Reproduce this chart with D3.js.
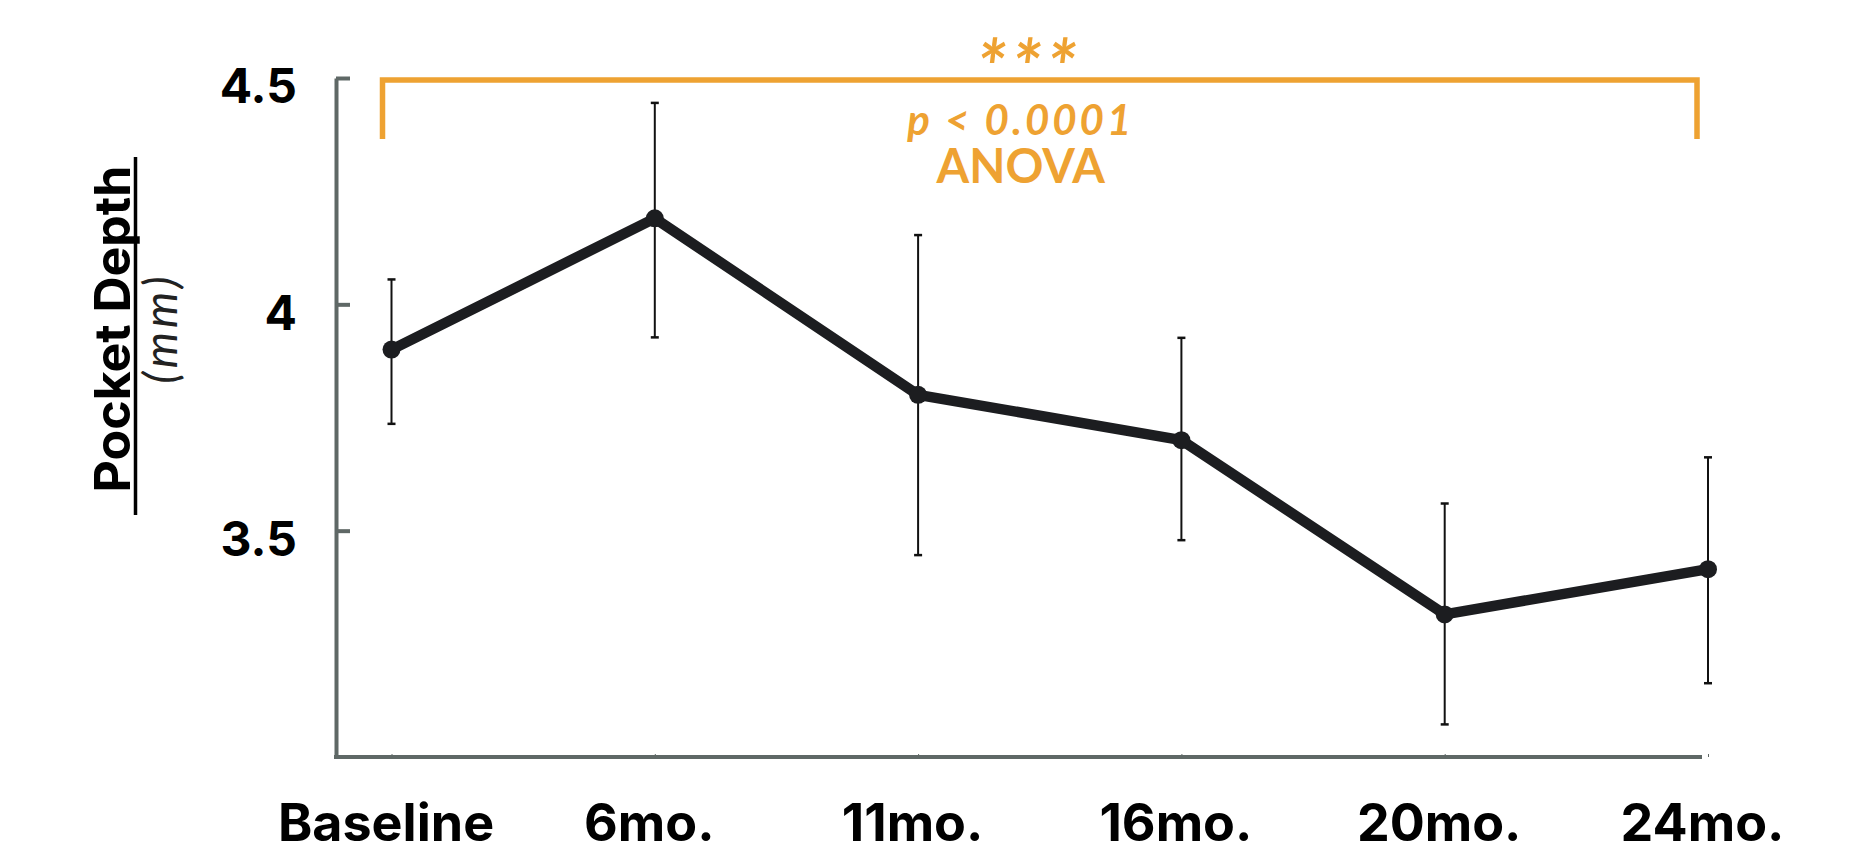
<!DOCTYPE html>
<html>
<head>
<meta charset="utf-8">
<script src="https://cdn.jsdelivr.net/npm/d3@7"></script>
<style>
  body { margin: 0; background: #fff; }
  svg { display: block; }
</style>
</head>
<body>
<div id="chart"></div>
<script>
// values
var categories = ["Baseline", "6mo.", "11mo.", "16mo.", "20mo.", "24mo."];
var means = [3.90, 4.19, 3.80, 3.70, 3.315, 3.415];
var upper = [4.055, 4.445, 4.153, 3.926, 3.56, 3.662];
var lower = [3.736, 3.927, 3.446, 3.479, 3.072, 3.163];
var yTicks = [3.5, 4, 4.5];
var yTickLabels = ["3.5", "4", "4.5"];
var starText = "***";
var pText = "p < 0.0001";
var testText = "ANOVA";

var rows = categories.map(function(c, i) {
    return {cat: c, mean: means[i], hi: upper[i], lo: lower[i]};
});

var width = 1861, height = 850;
var orange = "#eea232", axisGrey = "#5f6866", ink = "#1c1d20";

var svg = d3.select("#chart").append("svg")
    .attr("width", width)
    .attr("height", height);

svg.append("rect")
    .attr("width", width)
    .attr("height", height)
    .attr("fill", "#fff");

// scales
var x = d3.scalePoint().domain(categories).range([391.5, 1708]);
var y = d3.scaleLinear().domain([3.0, 4.5]).range([757, 78]);
var axisX = 336;

// y axis
var yAxis = svg.append("g")
    .attr("transform", "translate(" + axisX + ",0)")
    .call(d3.axisLeft(y)
        .tickValues(yTicks)
        .tickFormat(function(d, i) { return yTickLabels[i]; })
        .tickSizeInner(-14)
        .tickSizeOuter(0)
        .tickPadding(39));
yAxis.select(".domain").attr("stroke", axisGrey).attr("stroke-width", 4);
yAxis.selectAll(".tick line").attr("stroke", axisGrey).attr("stroke-width", 4);
yAxis.selectAll(".tick text")
    .attr("dy", "0.52em")
    .attr("fill", "#000")
    .style("font-family", "Inter, sans-serif")
    .style("font-weight", 700)
    .style("font-size", "48px");

// x axis line (stops just short of the last point)
svg.append("line")
    .attr("x1", axisX - 2)
    .attr("x2", x(categories[categories.length - 1]) - 6)
    .attr("y1", y(3.0))
    .attr("y2", y(3.0))
    .attr("stroke", axisGrey)
    .attr("stroke-width", 4);

// x category labels
var xAxis = svg.append("g")
    .attr("transform", "translate(0," + y(3.0) + ")")
    .call(d3.axisBottom(x).tickSizeInner(-3).tickSizeOuter(0).tickPadding(47));
xAxis.select(".domain").remove();
xAxis.selectAll(".tick line").attr("stroke", axisGrey).attr("stroke-width", 1);
xAxis.selectAll(".tick text")
    .attr("dx", "-6")
    .attr("fill", "#000")
    .style("font-family", "Inter, sans-serif")
    .style("font-weight", 700)
    .style("font-size", "52px");

// y axis title
var titleG = svg.append("g")
    .attr("transform", "translate(0,329) rotate(-90)");
titleG.append("text")
    .attr("x", 0)
    .attr("y", 129.5)
    .attr("text-anchor", "middle")
    .attr("fill", "#000")
    .style("font-family", "Inter, sans-serif")
    .style("font-weight", 700)
    .style("font-size", "50px")
    .text("Pocket Depth");
titleG.append("line")
    .attr("x1", -186)
    .attr("x2", 172)
    .attr("y1", 135.5)
    .attr("y2", 135.5)
    .attr("stroke", "#000")
    .attr("stroke-width", 3.5);
titleG.append("text")
    .attr("x", 1)
    .attr("y", 177)
    .attr("text-anchor", "middle")
    .attr("fill", "#222")
    .style("font-family", "Lato, sans-serif")
    .style("font-style", "italic")
    .style("font-weight", 400)
    .style("font-size", "46px")
    .style("letter-spacing", "4px")
    .text("(mm)");

// error bars
var bars = svg.selectAll(".errbar")
    .data(rows)
    .enter().append("g")
    .attr("class", "errbar");
bars.append("line")
    .attr("x1", function(d) { return x(d.cat); })
    .attr("x2", function(d) { return x(d.cat); })
    .attr("y1", function(d) { return y(d.hi); })
    .attr("y2", function(d) { return y(d.lo); })
    .attr("stroke", "#111")
    .attr("stroke-width", 2);
bars.selectAll(".cap")
    .data(function(d) { return [{cat: d.cat, v: d.hi}, {cat: d.cat, v: d.lo}]; })
    .enter().append("line")
    .attr("class", "cap")
    .attr("x1", function(d) { return x(d.cat) - 4; })
    .attr("x2", function(d) { return x(d.cat) + 4; })
    .attr("y1", function(d) { return y(d.v); })
    .attr("y2", function(d) { return y(d.v); })
    .attr("stroke", "#111")
    .attr("stroke-width", 2.5);

// mean line and dots
var line = d3.line()
    .x(function(d) { return x(d.cat); })
    .y(function(d) { return y(d.mean); });

svg.append("path")
    .datum(rows)
    .attr("d", line)
    .attr("fill", "none")
    .attr("stroke", ink)
    .attr("stroke-width", 10.5)
    .attr("stroke-linejoin", "round");

svg.selectAll(".dot")
    .data(rows)
    .enter().append("circle")
    .attr("class", "dot")
    .attr("cx", function(d) { return x(d.cat); })
    .attr("cy", function(d) { return y(d.mean); })
    .attr("r", 9)
    .attr("fill", ink);

// significance bracket
var bLeft = x(categories[0]) - 9;
var bRight = x(categories[categories.length - 1]) - 11;
var bTop = y(4.5) + 2;
var bLeg = y(4.365);
svg.append("path")
    .attr("d", "M" + bLeft + "," + bLeg + "V" + bTop + "H" + bRight + "V" + bLeg)
    .attr("fill", "none")
    .attr("stroke", orange)
    .attr("stroke-width", 5.5);

var labelX = (bLeft + bRight) / 2 - 19;
svg.append("text")
    .attr("x", labelX + 8)
    .attr("y", 95)
    .attr("text-anchor", "middle")
    .attr("fill", orange)
    .style("font-family", "Lato, sans-serif")
    .style("font-style", "italic")
    .style("font-weight", 700)
    .style("font-size", "76px")
    .style("letter-spacing", "5px")
    .text(starText);
svg.append("text")
    .attr("x", labelX)
    .attr("y", 135)
    .attr("text-anchor", "middle")
    .attr("fill", orange)
    .style("font-family", "Lato, sans-serif")
    .style("font-style", "italic")
    .style("font-weight", 700)
    .style("font-size", "42px")
    .style("letter-spacing", "3px")
    .text(pText);
svg.append("text")
    .attr("x", labelX)
    .attr("y", 182.5)
    .attr("text-anchor", "middle")
    .attr("fill", orange)
    .style("font-family", "Lato, sans-serif")
    .style("font-weight", 700)
    .style("font-size", "47px")
    .text(testText);
</script>
</body>
</html>
